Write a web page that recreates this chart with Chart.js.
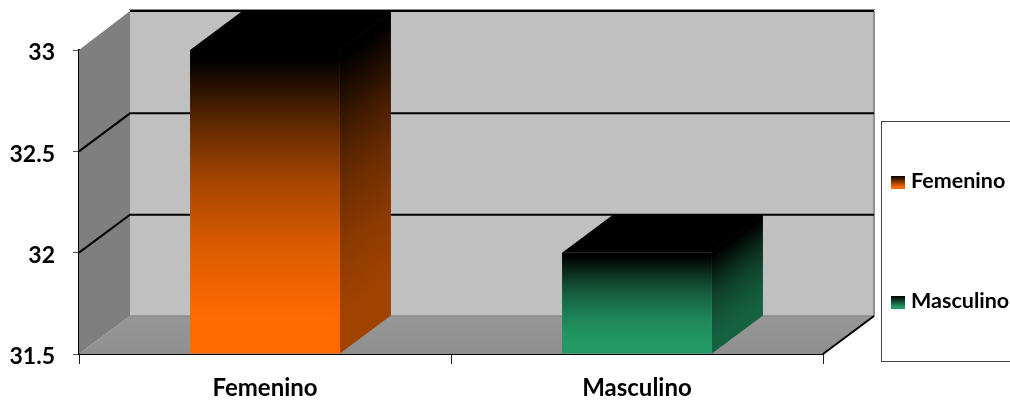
<!DOCTYPE html>
<html>
<head>
<meta charset="utf-8">
<title>Femenino / Masculino</title>
<script src="https://cdn.jsdelivr.net/npm/chart.js@4"></script>
<style>
  html, body { margin: 0; padding: 0; background: #fff; }
  canvas { display: block; }
</style>
</head>
<body>
<canvas id="grafico" width="1010" height="400"></canvas>
<script>
const CATEGORIAS = ['Femenino', 'Masculino'];
const VALORES = [33, 32];
const TICKS_Y = [31.5, 32, 32.5, 33];
const COLORES = [[255, 106, 0], [35, 154, 102]];

const FUENTE = 'Lato, "Open Sans", sans-serif';
// profundidad de la caja 3D
const PROF_X = 51;
const PROF_Y = 38;

function tono(rgb, k) {
  return `rgb(${rgb.map(c => Math.round(c * k)).join(',')})`;
}

// degradado de negro (arriba) al color de la serie (abajo)
function degradado(ctx, top, base, rgb, k = 1) {
  const g = ctx.createLinearGradient(0, top, 0, base);
  g.addColorStop(0, '#000');
  g.addColorStop(0.03, '#000');
  g.addColorStop(0.27, tono(rgb, 0.42 * k));
  g.addColorStop(0.44, tono(rgb, 0.66 * k));
  g.addColorStop(0.66, tono(rgb, 0.87 * k));
  g.addColorStop(0.88, tono(rgb, k));
  g.addColorStop(1, tono(rgb, k));
  return g;
}

function poligono(ctx, puntos, fill) {
  ctx.beginPath();
  puntos.forEach((p, i) => (i ? ctx.lineTo(p[0], p[1]) : ctx.moveTo(p[0], p[1])));
  ctx.closePath();
  ctx.fillStyle = fill;
  ctx.fill();
}

function linea(ctx, puntos, color, ancho) {
  ctx.beginPath();
  puntos.forEach((p, i) => (i ? ctx.lineTo(p[0], p[1]) : ctx.moveTo(p[0], p[1])));
  ctx.strokeStyle = color;
  ctx.lineWidth = ancho;
  ctx.stroke();
}

// paredes, suelo y rejilla de la caja
const caja3d = {
  id: 'caja3d',
  afterLayout(chart) {
    // las etiquetas del eje y van un poco por debajo de su marca
    chart.scales.y.getLabelItems().forEach(item => { item.options.translation[1] += 3; });
  },
  beforeDatasetsDraw(chart) {
    const { ctx, chartArea: a, scales: { y } } = chart;
    const L = a.left, R = a.right, T = a.top, B = a.bottom;
    ctx.save();

    poligono(ctx, [[L, B], [L, T], [L + PROF_X, T - PROF_Y - 1], [L + PROF_X, B - PROF_Y]], '#7f7f7f');
    poligono(ctx, [[L + PROF_X, T - PROF_Y - 1], [R + PROF_X, T - PROF_Y - 1], [R + PROF_X, B - PROF_Y], [L + PROF_X, B - PROF_Y]], '#c0c0c0');

    const gradSuelo = ctx.createLinearGradient(0, B - PROF_Y, 0, B);
    gradSuelo.addColorStop(0, '#979797');
    gradSuelo.addColorStop(1, '#8f8f8f');
    poligono(ctx, [[L, B], [L + PROF_X, B - PROF_Y], [R + PROF_X, B - PROF_Y], [R, B]], gradSuelo);

    linea(ctx, [[R + PROF_X, T - PROF_Y - 1], [R + PROF_X, B - PROF_Y]], '#8f8f8f', 2);
    linea(ctx, [[L + PROF_X, B - PROF_Y], [R + PROF_X, B - PROF_Y]], '#8a8a8a', 1.5);

    // rejilla: sube por la pared izquierda y cruza el fondo
    TICKS_Y.slice(1).forEach(v => {
      const py = y.getPixelForValue(v);
      if (v === TICKS_Y[TICKS_Y.length - 1]) {
        linea(ctx, [[L + PROF_X, py - PROF_Y - 1], [R + PROF_X, py - PROF_Y - 1]], '#000', 2);
      } else {
        linea(ctx, [[L, py], [L + PROF_X, py - PROF_Y], [R + PROF_X, py - PROF_Y]], '#000', 2);
      }
    });
    linea(ctx, [[L + PROF_X - 1, T - PROF_Y - 2.5], [R + PROF_X + 1, T - PROF_Y - 2.5]], '#8a8a8a', 1);
    linea(ctx, [[R, B], [R + PROF_X, B - PROF_Y]], '#000', 2);

    // caras lateral y superior de cada barra
    chart.getDatasetMeta(0).data.forEach((bar, i) => {
      const izq = bar.x - bar.width / 2;
      const der = bar.x + bar.width / 2;

      ctx.save();
      ctx.transform(1, -PROF_Y / PROF_X, 0, 1, der, 0);
      ctx.fillStyle = degradado(ctx, bar.y, bar.base, COLORES[i], 0.63);
      ctx.fillRect(0, bar.y, PROF_X, bar.base - bar.y);
      ctx.restore();

      const tapa = [[izq, bar.y], [izq + PROF_X, bar.y - PROF_Y], [der + PROF_X, bar.y - PROF_Y], [der, bar.y]];
      poligono(ctx, tapa, '#000');
      linea(ctx, [tapa[2], tapa[3]], '#000', 1);
    });
    ctx.restore();
  },
  afterDraw(chart) {
    // leyenda
    const { ctx } = chart;
    ctx.save();
    ctx.fillStyle = '#fff';
    ctx.fillRect(881, 121, 140, 240);
    ctx.strokeStyle = '#444';
    ctx.lineWidth = 1;
    ctx.strokeRect(881.5, 121.5, 140, 240);
    const filas = [182, 302];
    ctx.font = `bold 21.5px ${FUENTE}`;
    ctx.textBaseline = 'middle';
    CATEGORIAS.forEach((c, i) => {
      const g = ctx.createLinearGradient(0, filas[i] - 6, 0, filas[i] + 7);
      g.addColorStop(0, '#000');
      g.addColorStop(0.85, tono(COLORES[i], 1));
      ctx.fillStyle = g;
      ctx.fillRect(891, filas[i] - 6, 14, 13);
      ctx.fillStyle = '#000';
      ctx.fillText(c, 911, filas[i] - 1);
    });
    ctx.restore();
  }
};

new Chart(document.getElementById('grafico'), {
  type: 'bar',
  data: {
    labels: CATEGORIAS,
    datasets: [{
      label: 'Grupo',
      data: VALORES,
      base: TICKS_Y[0],
      barPercentage: 0.403,
      categoryPercentage: 1,
      backgroundColor(c) {
        const { chart, dataIndex } = c;
        if (!chart.chartArea) return tono(COLORES[dataIndex], 1);
        const y = chart.scales.y;
        return degradado(chart.ctx, y.getPixelForValue(VALORES[dataIndex]), y.bottom, COLORES[dataIndex]);
      }
    }]
  },
  plugins: [caja3d],
  options: {
    responsive: false,
    animation: false,
    layout: { padding: { left: 0, top: 50, right: 187, bottom: 0 } },
    plugins: { legend: { display: false }, tooltip: { enabled: false } },
    scales: {
      x: {
        z: 1,
        afterFit(s) { s.height = 46; },
        grid: { drawOnChartArea: false, drawTicks: true, tickLength: 10, tickColor: '#222', tickWidth: 1 },
        border: { color: '#000', width: 2 },
        ticks: { color: '#000', padding: 10, maxRotation: 0, font: { family: FUENTE, size: 24, weight: 'bold' } }
      },
      y: {
        z: 1,
        min: TICKS_Y[0],
        max: TICKS_Y[TICKS_Y.length - 1],
        afterFit(s) { s.width = 79; },
        afterBuildTicks(s) { s.ticks = TICKS_Y.map(value => ({ value })); },
        grid: { drawOnChartArea: false, drawTicks: true, tickLength: 6, tickColor: '#555', tickWidth: 1 },
        border: { color: '#000', width: 2 },
        ticks: { color: '#000', padding: 18, callback: v => String(v), font: { family: FUENTE, size: 23, weight: 'bold' } }
      }
    }
  }
});
</script>
</body>
</html>
